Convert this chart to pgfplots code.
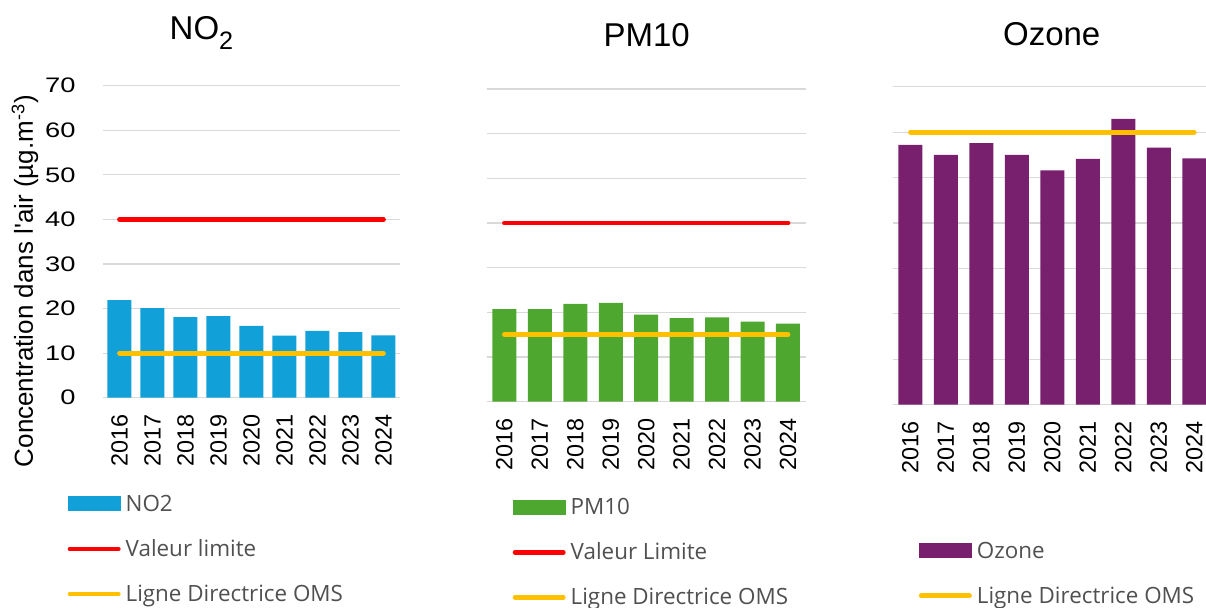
\documentclass[border=0pt]{standalone}
\usepackage{pgfplots}
\pgfplotsset{compat=1.18}
\usepackage{fontspec}
\setmainfont{Liberation Sans}
\newfontfamily\tickfont[FakeStretch=1.3]{Liberation Sans}
\newfontfamily\legfont{Open Sans}
\definecolor{no2blue}{HTML}{11A0D7}
\definecolor{pmgreen}{HTML}{4EA72E}
\definecolor{ozpurple}{HTML}{78206E}
\definecolor{limred}{HTML}{FF0000}
\definecolor{omsyellow}{HTML}{FFC000}
\definecolor{gridgray}{HTML}{D9D9D9}
\definecolor{leggray}{HTML}{505050}
\pgfplotsset{
  panel/.style={
    scale only axis,
    anchor=south west,
    xmin=-0.5, xmax=8.5,
    ymin=0, ymax=70,
    ytick={0,10,...,70},
    xtick={0,...,8},
    xticklabels={2016,2017,2018,2019,2020,2021,2022,2023,2024},
    axis line style={draw=none},
    tick style={draw=none},
    ymajorgrids,
    major grid style={gridgray, line width=0.6pt},
    /pgf/number format/assume math mode=true,
    xticklabel style={font=\fontsize{11.7pt}{12pt}\selectfont, rotate=90, anchor=east, inner sep=0pt},
    xticklabel shift=8pt,
    yticklabel style={font=\tickfont\fontsize{10.5pt}{12pt}\selectfont, inner sep=0pt, xshift=-13.5pt},
    legend cell align=left,
    clip=false,
  },
  barsty/.style={ybar, bar width=12pt, bar shift=0pt, draw=none, fill=#1,
    legend image code/.code={\fill[#1] (0pt,-3.75pt) rectangle (26.5pt,3.75pt);}},
  linesty/.style={draw=#1, line width=2.4pt, line cap=round, mark=none,
    legend image code/.code={\draw[#1, line width=2.4pt, line cap=round] (1.2pt,0pt) -- (25.3pt,0pt);}},
  legsty/.style={legend style={at={#1}, anchor=north west, draw=none, fill=none,
    inner sep=0pt, outer sep=0pt, row sep=0pt, column sep=2.5pt,
    font=\legfont\fontsize{11.2pt}{12pt}\selectfont, text=leggray,
    nodes={inner sep=0pt, text height=14.85pt, text depth=7.65pt}}},
}
\begin{document}
\begin{tikzpicture}
\useasboundingbox (0,0) rectangle (603pt,304pt);
% ---------- NO2 ----------
\begin{axis}[panel, at={(51.5pt,105.15pt)}, width=148.5pt, height=156pt,
  legsty={(-0.119,-0.2686)}]
\addplot[barsty=no2blue] coordinates {(0,21.9) (1,20.1) (2,18.1) (3,18.3) (4,16.1) (5,13.9) (6,15.0) (7,14.7) (8,14.0)};
\addlegendentry{NO2}
\addplot[linesty=limred] coordinates {(0,40) (8,40)};
\addlegendentry{Valeur limite}
\addplot[linesty=omsyellow] coordinates {(0,10) (8,10)};
\addlegendentry{Ligne Directrice OMS}
\node[anchor=base, font=\fontsize{16.5pt}{18pt}\selectfont] at (axis description cs:0.3316,1.1487) {NO\raisebox{-5.3pt}{\fontsize{12.6pt}{13pt}\selectfont 2}};
\node[rotate=90, anchor=base, font=\fontsize{13pt}{14pt}\selectfont] at (axis description cs:-0.2357,0.374) {Concentration dans l\textquotesingle air (µg.m\textsuperscript{-3})};
\end{axis}
% ---------- PM10 ----------
\begin{axis}[panel, at={(243.35pt,103.15pt)}, width=159.5pt, height=156.35pt,
  yticklabels={}, legsty={(0.0815,-0.2658)}]
\addplot[barsty=pmgreen] coordinates {(0,20.7) (1,20.7) (2,21.9) (3,22.1) (4,19.5) (5,18.7) (6,18.9) (7,17.9) (8,17.5)};
\addlegendentry{PM10}
\addplot[linesty=limred] coordinates {(0,40) (8,40)};
\addlegendentry{Valeur Limite}
\addplot[linesty=omsyellow] coordinates {(0,15) (8,15)};
\addlegendentry{Ligne Directrice OMS}
\node[anchor=base, font=\fontsize{16.5pt}{18pt}\selectfont] at (axis description cs:0.5016,1.1353) {PM10};
\end{axis}
% ---------- Ozone ----------
\begin{axis}[panel, at={(446.35pt,101.65pt)}, width=159.65pt, height=159pt,
  yticklabels={}, legsty={(0.082,-0.389)}]
\addplot[barsty=ozpurple] coordinates {(0,57.2) (1,55.0) (2,57.6) (3,55.0) (4,51.6) (5,54.1) (6,62.9) (7,56.6) (8,54.2)};
\addlegendentry{Ozone}
\addplot[linesty=omsyellow] coordinates {(0,60) (8,60)};
\addlegendentry{Ligne Directrice OMS}
\node[anchor=base, font=\fontsize{16.5pt}{18pt}\selectfont] at (axis description cs:0.498,1.1296) {Ozone};
\end{axis}
\end{tikzpicture}
\end{document}
